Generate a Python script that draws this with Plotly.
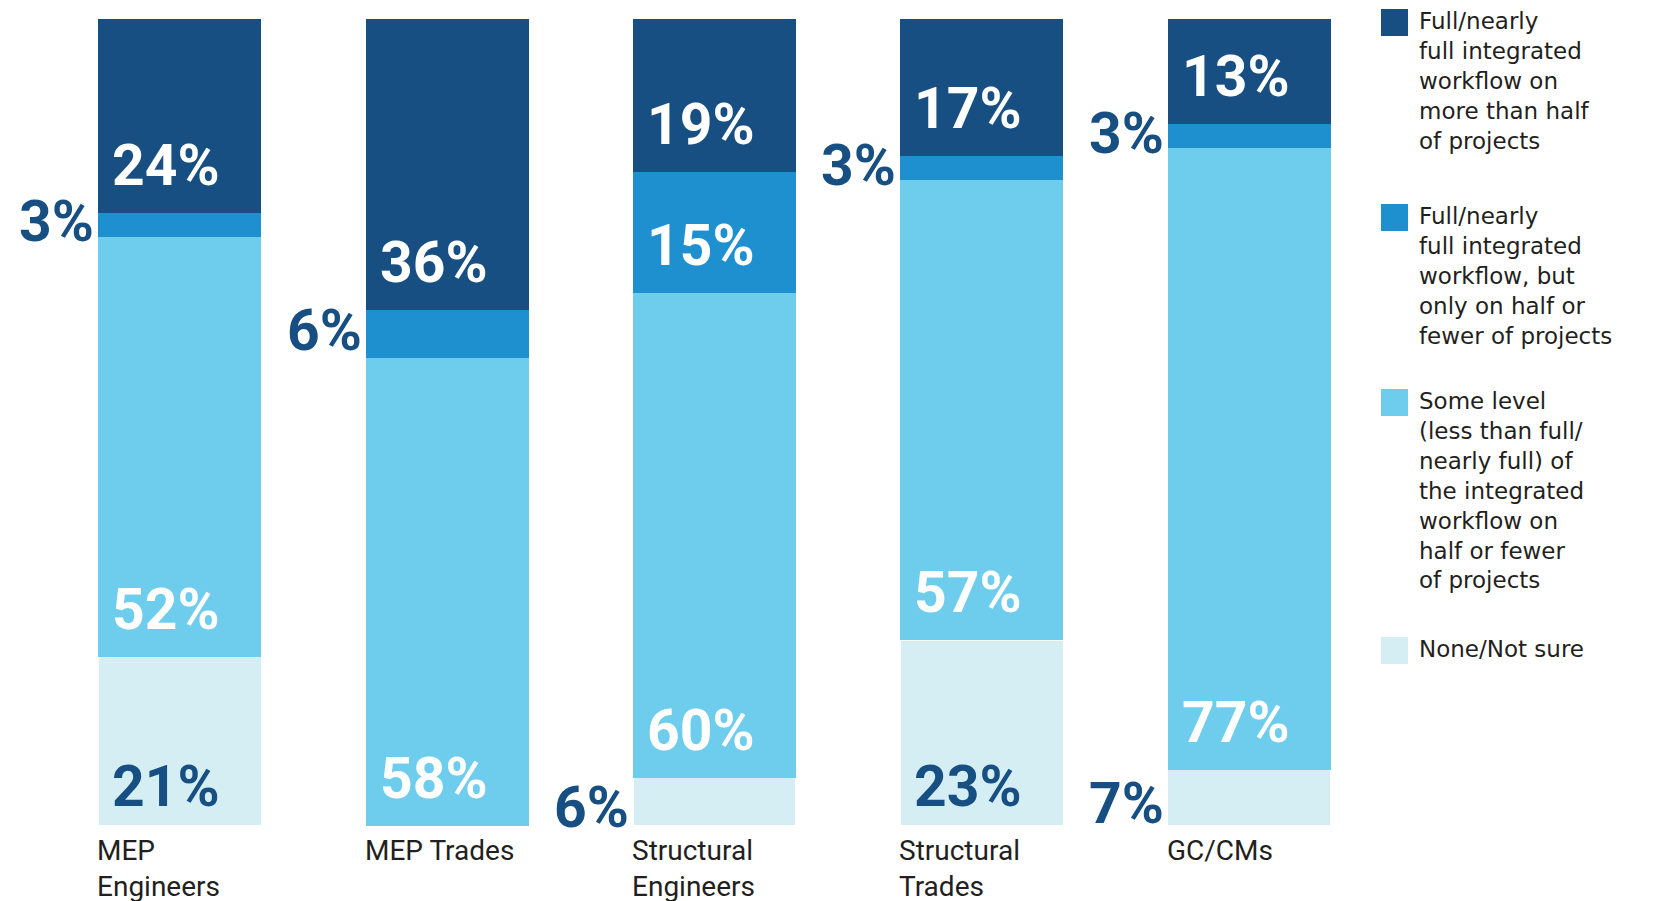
import plotly.graph_objects as go

# Data
categories = ["MEP<br>Engineers", "MEP Trades", "Structural<br>Engineers", "Structural<br>Trades", "GC/CMs"]
full_more = [24, 36, 19, 17, 13]
full_half = [3, 6, 15, 3, 3]
some_level = [52, 58, 60, 57, 77]
none_sure = [21, 0, 6, 23, 7]

series_names = [
    "Full/nearly<br>full integrated<br>workflow on<br>more than half<br>of projects",
    "Full/nearly<br>full integrated<br>workflow, but<br>only on half or<br>fewer of projects",
    "Some level<br>(less than full/<br>nearly full) of<br>the integrated<br>workflow on<br>half or fewer<br>of projects",
    "None/Not sure",
]
colors = ["#174f82", "#1e90cf", "#6ecdec", "#d5eef4"]

W, H = 1657, 901
OFF = 8  # page body margin
L, R, T, B = 38, 282, 11, 83
BAR_W = 0.61
PCT_FONT = "Roboto, sans-serif"
TXT_FONT = "Roboto, Open Sans, sans-serif"
LEG_FONT = "DejaVu Sans, sans-serif"


def px_x(p):
    return (p - OFF - L) / (W - L - R)


def px_y(p):
    return (H - B - (p - OFF)) / (H - T - B)


# stacked bottom -> top
stack = [none_sure, some_level, full_half, full_more]
stack_colors = [colors[3], colors[2], colors[1], colors[0]]

fig = go.Figure()
for k, (vals, col) in enumerate(zip(stack, stack_colors)):
    fig.add_trace(go.Bar(
        x=categories, y=vals, marker_color=col,
        marker_line=dict(color="white", width=1.5 if k == 0 else 0),
        width=BAR_W, showlegend=False, hoverinfo="skip",
    ))

# percentage labels: small shares sit left of the bar, the rest inside it
base = [0] * len(categories)
for k, vals in enumerate(stack):
    for i, v in enumerate(vals):
        if v > 0:
            if v < 10:
                fig.add_annotation(
                    x=i - BAR_W / 2, y=base[i] + v / 2, xref="x", yref="y",
                    text=f"<b>{v}%</b>", showarrow=False, xanchor="right", yanchor="middle",
                    xshift=-2, yshift=-6 if k == 0 else 3,
                    font=dict(family=PCT_FONT, size=57, color=colors[0]),
                )
            else:
                fig.add_annotation(
                    x=i - BAR_W / 2, y=base[i], xref="x", yref="y",
                    text=f"<b>{v}%</b>", showarrow=False, xanchor="left", yanchor="bottom",
                    xshift=12, yshift=4 if k == 0 else 12,
                    font=dict(family=PCT_FONT, size=57,
                              color=colors[0] if k == 0 else "white"),
                )
        base[i] += v

# category labels, left aligned under each bar
for i, c in enumerate(categories):
    fig.add_annotation(
        x=i - BAR_W / 2, y=0, xref="x", yref="y", text=c, showarrow=False,
        xanchor="left", yanchor="top", align="left", xshift=-3, yshift=-6,
        font=dict(family=TXT_FONT, size=28, color="#231f20"),
    )

# hand-made legend with large square swatches
legend_tops = [9, 204, 389, 637]
for name, col, top in zip(series_names, colors, legend_tops):
    fig.add_shape(
        type="rect", xref="paper", yref="paper",
        x0=px_x(1381), x1=px_x(1408), y0=px_y(top + 27), y1=px_y(top),
        fillcolor=col, line_width=0,
    )
    fig.add_annotation(
        x=px_x(1417), y=px_y(top - 3), xref="paper", yref="paper", text=name,
        showarrow=False, xanchor="left", yanchor="top", align="left",
        font=dict(family=LEG_FONT, size=23, color="#231f20"),
    )

fig.update_layout(
    barmode="stack",
    width=W, height=H,
    margin=dict(l=L, r=R, t=T, b=B),
    plot_bgcolor="white", paper_bgcolor="white",
    bargap=1 - BAR_W,
    xaxis=dict(range=[-0.5, 4.5], showticklabels=False, showgrid=False, zeroline=False,
               showline=False, ticks=""),
    yaxis=dict(range=[0, 100], visible=False, showgrid=False),
)

fig.write_html("out.html")
